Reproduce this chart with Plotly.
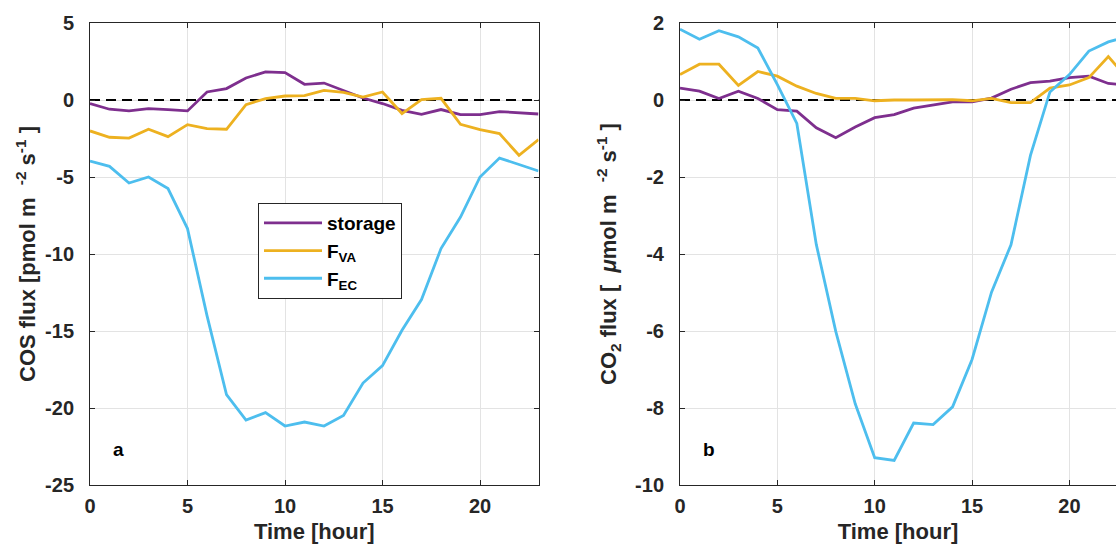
import plotly.graph_objects as go

hours = list(range(24))

# Panel a: COS flux [pmol m-2 s-1]
cos_storage = [-0.23, -0.60, -0.71, -0.56, -0.62, -0.71, 0.52, 0.74, 1.43, 1.82, 1.78, 1.02,
               1.10, 0.63, 0.13, -0.23, -0.67, -0.93, -0.62, -0.95, -0.95, -0.75, -0.84, -0.91]
cos_fva = [-2.01, -2.42, -2.47, -1.90, -2.38, -1.60, -1.86, -1.90, -0.30, 0.09, 0.26, 0.28,
           0.63, 0.50, 0.19, 0.52, -0.88, 0.02, 0.11, -1.58, -1.92, -2.18, -3.59, -2.57]
cos_fec = [-3.96, -4.31, -5.39, -5.00, -5.75, -8.35, -14.0, -19.13, -20.78, -20.30, -21.17, -20.91,
           -21.17, -20.49, -18.38, -17.25, -14.95, -12.96, -9.65, -7.60, -5.00, -3.77, -4.19, -4.61]

# Panel b: CO2 flux [umol m-2 s-1]
co2_storage = [0.31, 0.23, 0.04, 0.23, 0.04, -0.25, -0.29, -0.72, -0.98, -0.70, -0.46, -0.38,
               -0.21, -0.13, -0.05, -0.05, 0.05, 0.28, 0.45, 0.49, 0.58, 0.62, 0.43, 0.38]
co2_fva = [0.66, 0.93, 0.93, 0.38, 0.74, 0.62, 0.36, 0.17, 0.04, 0.04, -0.02, 0.0,
           0.0, 0.0, 0.01, -0.02, 0.04, -0.07, -0.07, 0.31, 0.39, 0.58, 1.13, 0.55]
co2_fec = [1.84, 1.58, 1.80, 1.64, 1.35, 0.40, -0.61, -3.75, -6.01, -7.89, -9.29, -9.36,
           -8.39, -8.43, -7.97, -6.74, -4.99, -3.76, -1.44, 0.21, 0.66, 1.27, 1.51, 1.65]

series_names = ["storage", "F<sub>VA</sub>", "F<sub>EC</sub>"]
colors = ["#7E2F8E", "#EDB120", "#4DBEEE"]

x_tickvals = [0, 5, 10, 15, 20]
x_ticklabels = ["0", "5", "10", "15", "20"]
cos_tickvals = [-25, -20, -15, -10, -5, 0, 5]
cos_ticklabels = ["-25", "-20", "-15", "-10", "-5", "0", "5"]
co2_tickvals = [-10, -8, -6, -4, -2, 0, 2]
co2_ticklabels = ["-10", "-8", "-6", "-4", "-2", "0", "2"]

W, H = 1116, 544
T, B = 23, 59
FONT = "Liberation Sans, Arial, Helvetica, sans-serif"
AX = "#262626"
NB = "\u00a0"

fig = go.Figure()
# dashed zero reference lines (drawn first so data lines sit on top)
for xa, ya in [("x", "y"), ("x2", "y2")]:
    fig.add_trace(go.Scatter(x=[hours[0], hours[-1]], y=[0, 0], mode="lines", showlegend=False,
                             hoverinfo="skip", line=dict(color="black", width=2, dash="10px,6px"),
                             xaxis=xa, yaxis=ya))
for name, col, ys in zip(series_names, colors, [cos_storage, cos_fva, cos_fec]):
    fig.add_trace(go.Scatter(x=hours, y=ys, mode="lines", name=name,
                             line=dict(color=col, width=2.8), xaxis="x", yaxis="y"))
for name, col, ys in zip(series_names, colors, [co2_storage, co2_fva, co2_fec]):
    fig.add_trace(go.Scatter(x=hours, y=ys, mode="lines", name=name, showlegend=False,
                             line=dict(color=col, width=2.8), xaxis="x2", yaxis="y2"))

tickfont = dict(family=FONT, size=20, color=AX, weight="bold")
titlefont = dict(family=FONT, size=22, color=AX, weight="bold")

common_axis = dict(showline=True, linecolor=AX, linewidth=1, ticks="inside", ticklen=5,
                   tickcolor=AX, showgrid=True, gridcolor="#e3e3e3", gridwidth=1,
                   zeroline=False, tickfont=tickfont, automargin=False, tickmode="array")

cos_title = f"COS flux [pmol m{NB}{NB}<sup>-2</sup>{NB}s<sup>-1</sup>{NB}]"
co2_title = f"CO<sub>2</sub> flux [{NB}{NB}<i>μ</i>mol m{NB}{NB}<sup>-2</sup>{NB}s<sup>-1</sup>{NB}]"

fig.update_layout(
    width=W, height=H,
    margin=dict(l=0, r=0, t=T, b=B),
    paper_bgcolor="white", plot_bgcolor="white",
    font=dict(family=FONT, weight="bold", color=AX),
    xaxis=dict(domain=[90 / W, 538.5 / W], range=[0, 23], tickvals=x_tickvals, ticktext=x_ticklabels,
               mirror="ticks", ticklabelstandoff=3,
               title=dict(text="Time [hour]", font=titlefont, standoff=9), anchor="y", **common_axis),
    yaxis=dict(domain=[0, 1], range=[-25, 5], tickvals=cos_tickvals, ticktext=cos_ticklabels,
               mirror="ticks", ticklabelstandoff=11,
               title=dict(text=cos_title, font=titlefont, standoff=3),
               anchor="x", **common_axis),
    xaxis2=dict(domain=[680 / W, 1.0], range=[0, 436 / 19.47], tickvals=x_tickvals, ticktext=x_ticklabels,
                mirror="ticks", ticklabelstandoff=3,
                title=dict(text="Time [hour]", font=titlefont, standoff=9), anchor="y2", **common_axis),
    yaxis2=dict(domain=[0, 1], range=[-10, 2], tickvals=co2_tickvals, ticktext=co2_ticklabels,
                mirror=False, ticklabelstandoff=11,
                title=dict(text=co2_title, font=titlefont, standoff=12),
                anchor="x2", **common_axis),
    legend=dict(x=258 / W, y=1 - (203 - T) / (H - T - B), xanchor="left", yanchor="top",
                bgcolor="white", bordercolor=AX, borderwidth=1,
                font=dict(family=FONT, size=19, color="black", weight="bold"),
                tracegroupgap=2, itemwidth=58),
    showlegend=True,
)

fig.add_annotation(x=1.44, y=-22.7, xref="x", yref="y", text="a", showarrow=False,
                   font=dict(family=FONT, size=19, color="black", weight="bold"))
fig.add_annotation(x=1.49, y=-9.07, xref="x2", yref="y2", text="b", showarrow=False,
                   font=dict(family=FONT, size=19, color="black", weight="bold"))

fig.write_html("out.html")
